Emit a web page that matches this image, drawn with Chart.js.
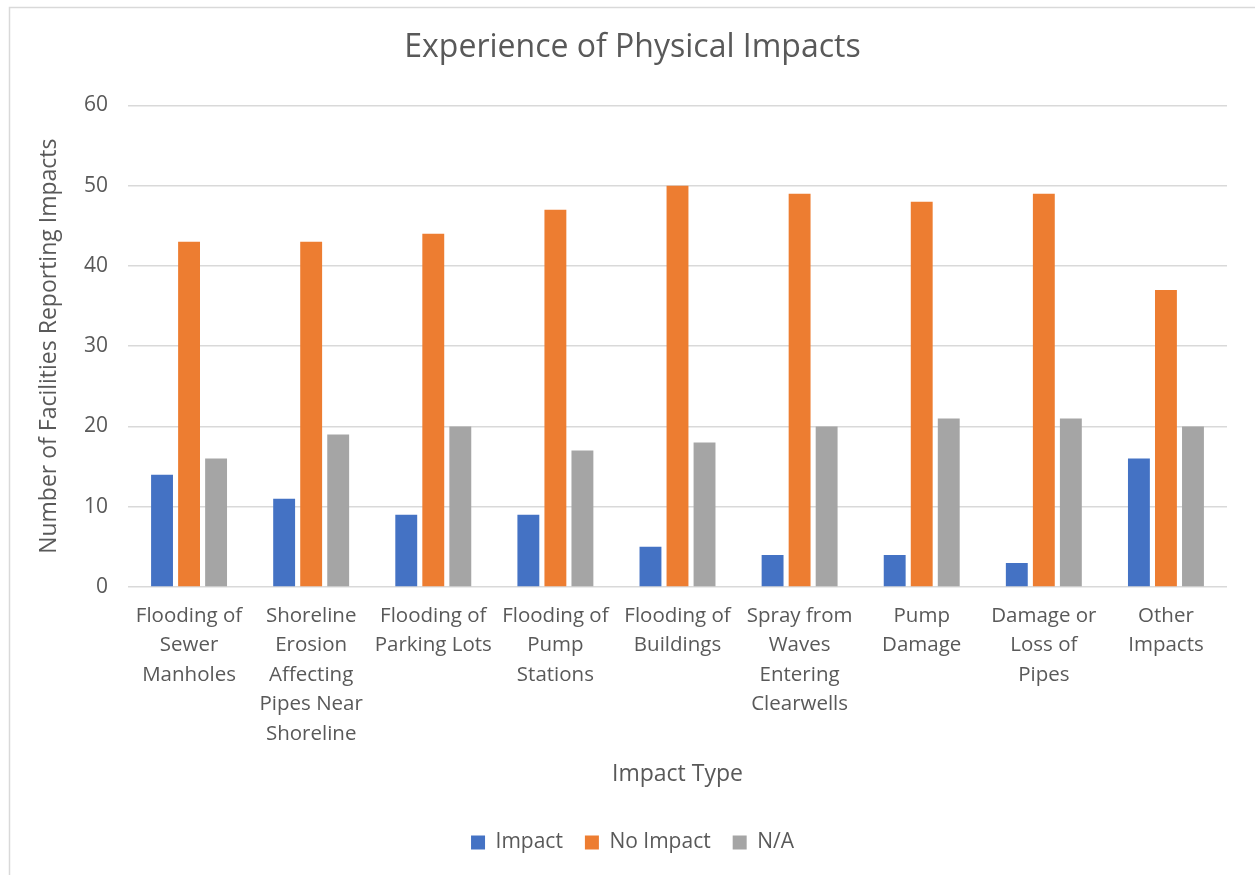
<!DOCTYPE html>
<html>
<head>
<meta charset="utf-8">
<script src="https://cdn.jsdelivr.net/npm/chart.js@4.4.1/dist/chart.umd.min.js"></script>
<style>
  html, body { margin: 0; padding: 0; background: #fff; }
  #wrap { width: 1255px; height: 875px; position: relative; }
</style>
</head>
<body>
<div id="wrap"><canvas id="impactChart" width="1255" height="875"></canvas></div>
<script>
// categories and series values
var categories = [
    ["Flooding of", "Sewer", "Manholes"],
    ["Shoreline", "Erosion", "Affecting", "Pipes Near", "Shoreline"],
    ["Flooding of", "Parking Lots"],
    ["Flooding of", "Pump", "Stations"],
    ["Flooding of", "Buildings"],
    ["Spray from", "Waves", "Entering", "Clearwells"],
    ["Pump", "Damage"],
    ["Damage or", "Loss of", "Pipes"],
    ["Other", "Impacts"]
];
var impactVals   = [14, 11, 9, 9, 5, 4, 4, 3, 16];
var noImpactVals = [43, 43, 44, 47, 50, 49, 48, 49, 37];
var naVals       = [16, 19, 20, 17, 18, 20, 21, 21, 20];
var seriesNames  = ["Impact", "No Impact", "N/A"];

var textCol = '#595959';
var fontFam = '"Open Sans", "Liberation Sans", sans-serif';

// light frame round the chart, like the office chart border
var framePlugin = {
    id: 'frame',
    beforeDraw: function (chart) {
        var c = chart.ctx;
        c.save();
        c.fillStyle = '#fff';
        c.fillRect(0, 0, chart.width, chart.height);
        c.strokeStyle = '#D9D9D9';
        c.lineWidth = 1.5;
        c.strokeRect(9.5, 7.5, chart.width + 10, chart.height + 10);
        c.restore();
    }
};

var ctx = document.getElementById("impactChart").getContext('2d');
var impactChart = new Chart(ctx, {
    type: 'bar',
    data: {
        labels: categories,
        datasets: [{
            label: seriesNames[0],
            data: impactVals,
            backgroundColor: '#4472C4'
        }, {
            label: seriesNames[1],
            data: noImpactVals,
            backgroundColor: '#ED7D31'
        }, {
            label: seriesNames[2],
            data: naVals,
            backgroundColor: '#A5A5A5'
        }]
    },
    options: {
        responsive: false,
        animation: false,
        categoryPercentage: 0.664,
        barPercentage: 0.81,
        layout: {
            padding: { left: 38, right: 28, top: 0, bottom: 12 }
        },
        plugins: {
            title: {
                display: true,
                text: 'Experience of Physical Impacts',
                color: textCol,
                font: { family: fontFam, size: 32, weight: 'normal' },
                padding: { top: 29, bottom: 38 }
            },
            legend: {
                position: 'bottom',
                labels: {
                    color: textCol,
                    font: { family: fontFam, size: 21 },
                    boxWidth: 14,
                    boxHeight: 14,
                    padding: 22
                }
            },
            tooltip: { enabled: false }
        },
        scales: {
            x: {
                grid: { display: false },
                border: { display: false },
                ticks: {
                    color: textCol,
                    font: { family: fontFam, size: 20.5, lineHeight: 1.44 },
                    maxRotation: 0,
                    minRotation: 0,
                    autoSkip: false,
                    padding: 6
                },
                title: {
                    display: true,
                    text: 'Impact Type',
                    color: textCol,
                    font: { family: fontFam, size: 23 },
                    padding: { top: 0, bottom: 22 }
                },
                afterFit: function (scale) { scale.height = 223; }
            },
            y: {
                min: 0,
                max: 60,
                ticks: {
                    stepSize: 10,
                    color: textCol,
                    font: { family: fontFam, size: 21 },
                    padding: 20
                },
                grid: { color: '#D9D9D9', lineWidth: 1.5, drawTicks: false },
                border: { display: false },
                title: {
                    display: true,
                    text: 'Number of Facilities Reporting Impacts',
                    color: textCol,
                    font: { family: fontFam, size: 23, lineHeight: 1.0 },
                    padding: { top: 0, bottom: 0 }
                },
                afterFit: function (scale) { scale.width = 90; }
            }
        }
    },
    plugins: [framePlugin]
});
</script>
</body>
</html>
